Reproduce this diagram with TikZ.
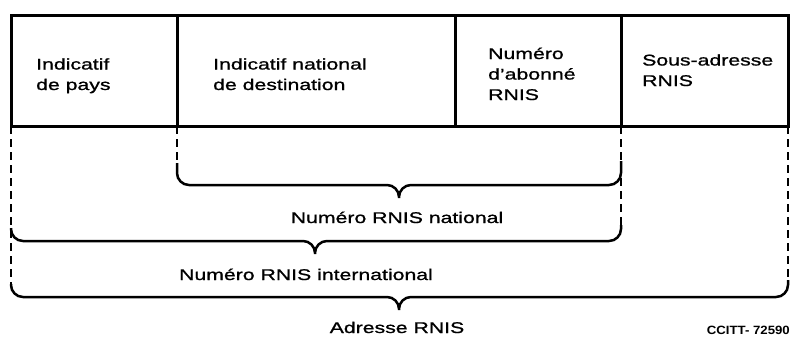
\documentclass[tikz,border=0pt]{standalone}
\usepackage{fontspec}
\setmainfont{Liberation Sans}[FakeStretch=1.37,FakeBold=1]
\newfontfamily\ccfont{Liberation Sans}[FakeStretch=1.1]
\begin{document}
\begin{tikzpicture}[x=1pt,y=-1pt,
  field/.style={draw, line width=3pt, minimum height=111pt, inner sep=0pt, outer sep=0pt, anchor=north west},
  lbl/.style={font=\fontsize{15.5}{20.5}\selectfont, align=left, inner sep=0pt, anchor=base west},
  brlbl/.style={font=\fontsize{15.5}{20.5}\selectfont, inner sep=0pt, anchor=base},
  guide/.style={line width=1.6pt, dash pattern=on 8pt off 5pt},
  bracestyle/.style={line width=2.5pt, rounded corners=12pt}
]
\useasboundingbox (0,0) rectangle (793,338);
% fields
\node[field, minimum width=166pt] (b1) at (11,15) {};
\node[field, minimum width=278pt] (b2) at (b1.north east) {};
\node[field, minimum width=166pt] (b3) at (b2.north east) {};
\node[field, minimum width=167pt] (b4) at (b3.north east) {};
% (base anchor = baseline of the last line)
\node[lbl] (t1) at (36,90) {Indicatif\\de pays};
\node[lbl] (t2) at (213,90) {Indicatif national\\de destination};
\node[lbl] (t3) at (488,100) {Numéro\\d’abonné\\RNIS};
\node[lbl] (t4) at (642,86) {Sous-adresse\\RNIS};
% brace ends and tips
\coordinate (natL) at (177,163);
\coordinate (natR) at (621,161);
\coordinate (natT) at (399,198);
\coordinate (intL) at (11,228);
\coordinate (intR) at (621,225);
\coordinate (intT) at (315,254);
\coordinate (adrL) at (11,284);
\coordinate (adrR) at (788,280);
\coordinate (adrT) at (399,310);
% dashed guides
\draw[guide] (b1.south west) -- (adrL);
\draw[guide] (b2.south west) -- (natL);
\draw[guide] (b3.south east) -- (intR);
\draw[guide] (b4.south east) -- (adrR);
% braces
\draw[bracestyle] (natL) |- ([yshift=13pt]natT) -- (natT)
                  (natR) |- ([yshift=13pt]natT) -- (natT);
\draw[bracestyle] (intL) |- ([yshift=13pt]intT) -- (intT)
                  (intR) |- ([yshift=13pt]intT) -- (intT);
\draw[bracestyle] (adrL) |- ([yshift=13pt]adrT) -- (adrT)
                  (adrR) |- ([yshift=13pt]adrT) -- (adrT);
% labels
\node[brlbl] (natlabel) at (397,223) {Numéro RNIS national};
\node[brlbl] (intlabel) at (306,280) {Numéro RNIS international};
\node[brlbl] (adrlabel) at (397,333) {Adresse RNIS};
\node[anchor=base east, inner sep=0pt, font=\fontsize{12}{14}\selectfont\ccfont\bfseries] (ref) at (790,334) {CCITT- 72590};
\end{tikzpicture}
\end{document}
